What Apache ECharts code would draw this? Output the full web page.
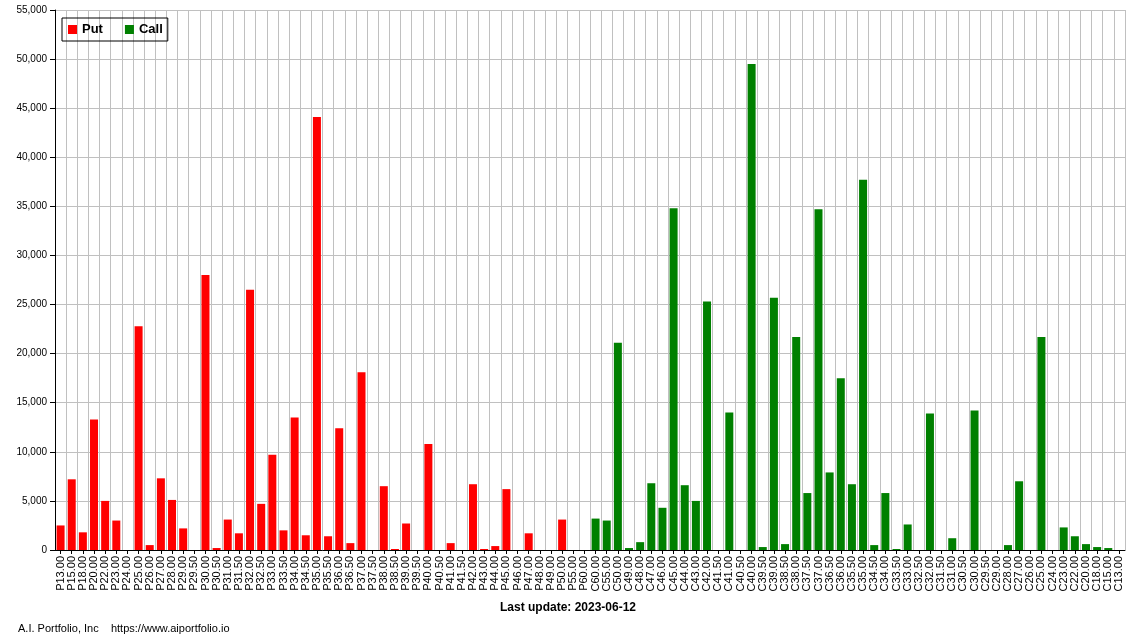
<!DOCTYPE html><html><head><meta charset="utf-8"><script src="https://cdn.jsdelivr.net/npm/echarts@6/dist/echarts.min.js"></script></head><body style="margin:0"><div id="c" style="width:1136px;height:640px"></div><script>
const putCats=["P13.00","P15.00","P18.00","P20.00","P22.00","P23.00","P24.00","P25.00","P26.00","P27.00","P28.00","P29.00","P29.50","P30.00","P30.50","P31.00","P31.50","P32.00","P32.50","P33.00","P33.50","P34.00","P34.50","P35.00","P35.50","P36.00","P36.50","P37.00","P37.50","P38.00","P38.50","P39.00","P39.50","P40.00","P40.50","P41.00","P41.50","P42.00","P43.00","P44.00","P45.00","P46.00","P47.00","P48.00","P49.00","P50.00","P55.00","P60.00"];
const callCats=["C60.00","C55.00","C50.00","C49.00","C48.00","C47.00","C46.00","C45.00","C44.00","C43.00","C42.00","C41.50","C41.00","C40.50","C40.00","C39.50","C39.00","C38.50","C38.00","C37.50","C37.00","C36.50","C36.00","C35.50","C35.00","C34.50","C34.00","C33.50","C33.00","C32.50","C32.00","C31.50","C31.00","C30.50","C30.00","C29.50","C29.00","C28.00","C27.00","C26.00","C25.00","C24.00","C23.00","C22.00","C20.00","C18.00","C15.00","C13.00"];
const putVals=[2500,7200,1800,13300,5000,3000,0,22800,500,7300,5100,2200,0,28000,200,3100,1700,26500,4700,9700,2000,13500,1500,44100,1400,12400,700,18100,0,6500,100,2700,0,10800,0,700,0,6700,100,400,6200,0,1700,0,0,3100,0,0];
const callVals=[3200,3000,21100,200,800,6800,4300,34800,6600,5000,25300,0,14000,0,49500,300,25700,600,21700,5800,34700,7900,17500,6700,37700,500,5800,100,2600,0,13900,0,1200,0,14200,0,0,500,7000,0,21700,0,2300,1400,600,300,200,0];
const cats=putCats.concat(callCats);
const pad=n=>Array(n).fill(null);
const ch=echarts.init(document.getElementById('c'));
ch.setOption({animation:false,
title:{text:'Last update: 2023-06-12',left:'center',top:597,textStyle:{fontSize:12,fontWeight:'bold',color:'#000',fontFamily:'Arial, Liberation Sans'}},
graphic:[{type:'text',left:18,top:623,style:{text:'A.I. Portfolio, Inc    https://www.aiportfolio.io',fontSize:11,fill:'#000',fontFamily:'Arial, Liberation Sans'}}],
legend:{left:62,top:18,itemWidth:9,itemHeight:9,itemGap:22,borderColor:'#000',borderWidth:1,padding:[5,5,5,6],borderRadius:0,textStyle:{fontWeight:'bold',fontSize:13,color:'#000',fontFamily:'Arial, Liberation Sans'},data:[{name:'Put',icon:'rect'},{name:'Call',icon:'rect'}]},
grid:{left:55,right:11,top:10,bottom:90},
xAxis:{type:'category',data:cats,axisTick:{show:true,alignWithLabel:true,length:4,lineStyle:{color:'#000'}},axisLine:{lineStyle:{color:'#000'}},splitLine:{show:true,lineStyle:{color:'#c0c0c0'}},axisLabel:{interval:0,rotate:90,fontSize:11,color:'#000',fontFamily:'Arial, Liberation Sans',margin:6}},
yAxis:{type:'value',min:0,max:55000,interval:5000,axisLine:{show:true,lineStyle:{color:'#000'}},axisTick:{show:true},splitLine:{lineStyle:{color:'#c0c0c0'}},axisLabel:{fontSize:10,color:'#000',fontFamily:'Arial, Liberation Sans'}},
series:[{name:'Put',type:'bar',stack:'a',barWidth:8,itemStyle:{color:'#ff0000'},data:putVals.concat(pad(callVals.length))},
{name:'Call',type:'bar',stack:'a',barWidth:8,itemStyle:{color:'#008000'},data:pad(putVals.length).concat(callVals)}]});
</script></body></html>
